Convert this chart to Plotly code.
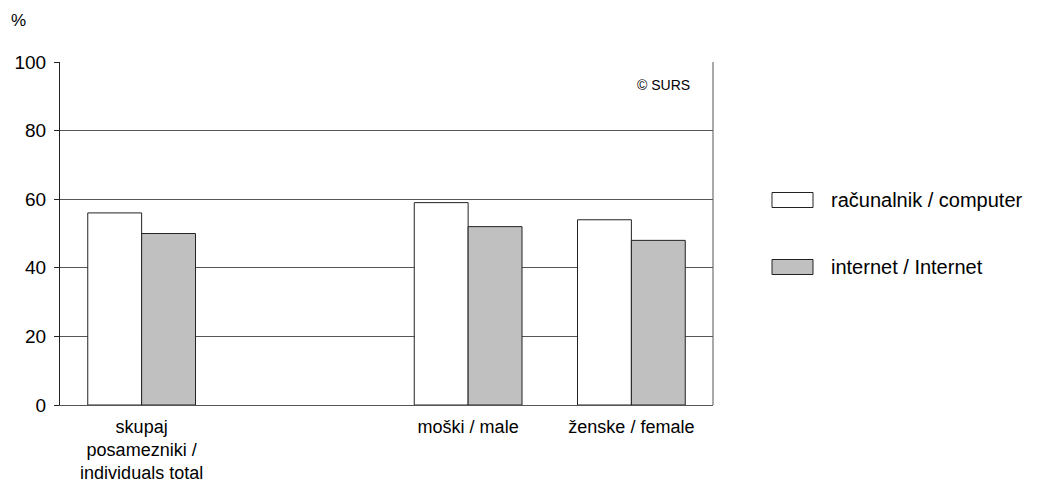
import plotly.graph_objects as go

categories = ["skupaj<br>posamezniki /<br>individuals total", " ", "moški / male", "ženske / female"]
computer = [56, None, 59, 54]
internet = [50, None, 52, 48]
series_names = ["računalnik / computer", "internet / Internet"]
series_colors = ["#ffffff", "#c0c0c0"]
y_ticks = [0, 20, 40, 60, 80, 100]

FONT = "Liberation Sans, Arial, sans-serif"
OUTLINE = "#222222"

fig = go.Figure()
for vals, name, col in zip([computer, internet], series_names, series_colors):
    fig.add_trace(go.Bar(x=categories, y=vals, name=name, showlegend=False,
                         marker=dict(color=col, line=dict(color=OUTLINE, width=1))))

# page body adds an 8px offset; compensate
W, H = 1029, 475
ml, mr, mt, mb = 52, 324, 54, 78
pw = W - ml - mr
ph = H - mt - mb

def px_x(x):  # page px -> paper x
    return (x - 8 - ml) / pw

def px_y(y):  # page px -> paper y
    return 1 - (y - 8 - mt) / ph

shapes = [dict(type="line", xref="paper", yref="paper", x0=1, x1=1, y0=0, y1=1,
               line=dict(color="#555555", width=1))]
annotations = [
    dict(text="%", x=px_x(9), xref="paper", xanchor="left", y=px_y(20), yref="paper",
         yanchor="middle", showarrow=False, font=dict(size=17)),
    dict(text="© SURS", x=px_x(692), xref="paper", xanchor="right", y=px_y(85), yref="paper",
         yanchor="middle", showarrow=False, font=dict(size=14)),
]
legend_y = [200, 267]
for yy, name, col in zip(legend_y, series_names, series_colors):
    shapes.append(dict(type="rect", xref="paper", yref="paper",
                       x0=px_x(772), x1=px_x(813), y0=px_y(yy - 7.5), y1=px_y(yy + 7.5),
                       fillcolor=col, line=dict(color=OUTLINE, width=1)))
    annotations.append(dict(text=name, x=px_x(829), xref="paper", xanchor="left",
                            y=px_y(yy), yref="paper", yanchor="middle", showarrow=False,
                            font=dict(size=20)))

fig.update_layout(
    width=W, height=H,
    margin=dict(l=ml, r=mr, t=mt, b=mb, autoexpand=False),
    paper_bgcolor="white", plot_bgcolor="white",
    font=dict(family=FONT, size=18, color="#000000"),
    barmode="group", bargap=0.34, bargroupgap=0,
    showlegend=False,
    xaxis=dict(type="category", categoryorder="array", categoryarray=categories,
               showline=True, linecolor="#555555", linewidth=1, mirror=False,
               ticks="", showgrid=False, tickfont=dict(size=18), ticklabelstandoff=5),
    yaxis=dict(range=[0, 100], tickvals=y_ticks, showgrid=True, gridcolor="#555555",
               gridwidth=1, showline=True, linecolor=OUTLINE, linewidth=1,
               ticks="outside", ticklen=5, tickcolor=OUTLINE, zeroline=False,
               tickfont=dict(size=19), ticklabelstandoff=4),
    annotations=annotations,
    shapes=shapes,
)

fig.write_html("out.html")
